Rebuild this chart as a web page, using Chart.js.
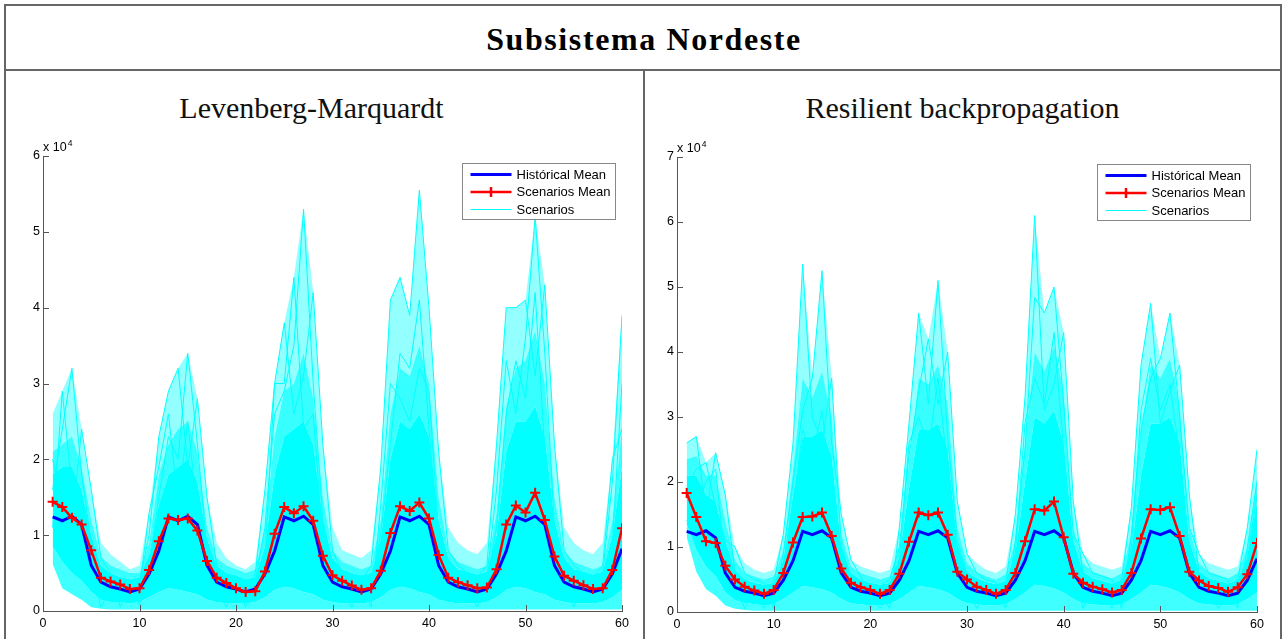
<!DOCTYPE html>
<html>
<head>
<meta charset="utf-8">
<script src="https://cdn.jsdelivr.net/npm/chart.js@4.4.1/dist/chart.umd.min.js"></script>
<style>
  html, body { margin: 0; padding: 0; background: #fff; overflow: hidden; }
  body { width: 1285px; height: 639px; position: relative; }
  .frame { position: absolute; left: 4px; top: 4px; width: 1274px; height: 700px; border: 2px solid #666; }
  .hline { position: absolute; left: 4px; top: 69px; width: 1278px; height: 2px; background: #666; }
  .vline { position: absolute; left: 643px; top: 69px; width: 2px; height: 600px; background: #666; }
  .title { position: absolute; top: 23px; left: 0; width: 1288px; text-align: center;
           font: bold 32px "Liberation Serif", serif; letter-spacing: 1.6px; line-height: 32px; color: #000; }
  .sub { position: absolute; top: 93px; font: 30px "Liberation Serif", serif; line-height: 30px;
         text-align: center; color: #111; }
  canvas { position: absolute; top: 71px; }
</style>
</head>
<body>
<div class="frame"></div>
<div class="hline"></div>
<div class="vline"></div>
<div class="title">Subsistema Nordeste</div>
<div class="sub" style="left:0;width:623px;">Levenberg-Marquardt</div>
<div class="sub" style="left:645px;width:635px;">Resilient backpropagation</div>
<canvas id="chart-lm" width="637" height="568" style="left:6px;"></canvas>
<canvas id="chart-rp" width="634" height="568" style="left:645px;"></canvas>
<script>
// values are in units of 10^4 (the axis multiplier)
const months = [1,2,3,4,5,6,7,8,9,10,11,12,13,14,15,16,17,18,19,20,21,22,23,24,25,26,27,28,29,30,
  31,32,33,34,35,36,37,38,39,40,41,42,43,44,45,46,47,48,49,50,51,52,53,54,55,56,57,58,59,60];
const xTicks = [0, 10, 20, 30, 40, 50, 60];
const lmYTicks = [0, 1, 2, 3, 4, 5, 6];
const rpYTicks = [0, 1, 2, 3, 4, 5, 6, 7];
const legendLabels = ['Histórical Mean', 'Scenarios Mean', 'Scenarios'];

const histMean = [
  1.24,1.19,1.25,1.14,0.60,0.38,0.32,0.29,0.25,0.29,0.49,0.79,
  1.24,1.19,1.25,1.14,0.60,0.38,0.32,0.29,0.25,0.29,0.49,0.79,
  1.24,1.19,1.25,1.14,0.60,0.38,0.32,0.29,0.25,0.29,0.49,0.79,
  1.24,1.19,1.25,1.14,0.60,0.38,0.32,0.29,0.25,0.29,0.49,0.79,
  1.24,1.19,1.25,1.14,0.60,0.38,0.32,0.29,0.25,0.29,0.49,0.82];

// Levenberg-Marquardt
const lmScenMean = [
  1.44,1.37,1.23,1.14,0.80,0.44,0.39,0.35,0.29,0.30,0.54,0.92,
  1.22,1.20,1.22,1.06,0.66,0.44,0.37,0.30,0.25,0.26,0.52,1.02,
  1.37,1.29,1.38,1.19,0.73,0.47,0.40,0.335,0.28,0.30,0.53,1.03,
  1.38,1.32,1.43,1.22,0.74,0.44,0.38,0.34,0.30,0.31,0.55,1.14,
  1.39,1.30,1.56,1.20,0.72,0.465,0.40,0.34,0.29,0.30,0.54,1.09];
const lmTop = [
  2.6,2.9,3.2,2.4,1.6,0.9,0.75,0.65,0.55,0.6,1.3,2.3,
  2.9,3.2,3.4,2.8,1.5,0.9,0.7,0.6,0.55,0.65,1.6,3.0,
  3.8,4.4,5.3,4.2,2.2,1.1,0.8,0.75,0.7,0.8,1.9,4.1,
  4.4,3.9,5.55,4.0,2.1,1.1,0.9,0.8,0.75,0.9,2.2,4.0,
  4.0,4.1,5.2,4.3,2.2,1.1,0.9,0.8,0.75,0.9,2.0,3.9];
const lmUpper = [
  2.1,2.2,2.3,1.9,1.2,0.72,0.6,0.55,0.5,0.5,0.9,1.8,
  2.2,2.4,2.5,2.1,1.1,0.7,0.6,0.55,0.5,0.55,1.1,2.3,
  2.9,3.0,3.4,2.8,1.5,0.8,0.65,0.6,0.55,0.6,1.2,2.6,
  3.2,3.1,3.5,3.0,1.5,0.8,0.65,0.6,0.55,0.6,1.3,2.7,
  3.2,3.3,3.7,3.0,1.5,0.8,0.65,0.6,0.55,0.6,1.2,2.4];
const lmHigh = [
  1.8,1.9,1.9,1.6,1.0,0.6,0.5,0.45,0.42,0.45,0.75,1.4,
  1.8,1.9,2.0,1.7,0.95,0.6,0.5,0.47,0.42,0.45,0.85,1.8,
  2.3,2.4,2.5,2.2,1.2,0.7,0.55,0.5,0.47,0.5,0.95,2.0,
  2.5,2.4,2.6,2.3,1.2,0.7,0.55,0.52,0.48,0.52,1.0,2.1,
  2.5,2.5,2.7,2.3,1.2,0.7,0.55,0.52,0.48,0.52,1.0,1.9];
const lmLow = [
  0.85,0.65,0.5,0.4,0.25,0.15,0.12,0.12,0.1,0.12,0.18,0.25,
  0.3,0.28,0.25,0.22,0.15,0.12,0.1,0.1,0.1,0.12,0.18,0.28,
  0.32,0.3,0.25,0.22,0.15,0.12,0.1,0.1,0.1,0.12,0.18,0.28,
  0.32,0.3,0.25,0.22,0.15,0.12,0.1,0.1,0.1,0.12,0.18,0.28,
  0.32,0.3,0.25,0.22,0.15,0.12,0.1,0.1,0.1,0.12,0.18,0.28];
const lmBottom = [
  0.62,0.3,0.22,0.15,0.05,0.03,0.02,0.02,0.02,0.02,0.02,0.02,
  0.02,0.02,0.02,0.02,0.02,0.02,0.02,0.02,0.02,0.02,0.02,0.02,
  0.02,0.02,0.02,0.02,0.02,0.02,0.02,0.02,0.02,0.02,0.02,0.02,
  0.02,0.02,0.02,0.02,0.02,0.02,0.02,0.02,0.02,0.02,0.02,0.02,
  0.02,0.02,0.02,0.02,0.02,0.02,0.02,0.02,0.02,0.02,0.02,0.02];
const lmLineA = [
  1.6,2.4,3.2,1.8,0.9,0.5,0.4,0.35,0.3,0.08,0.6,1.5,
  2.3,2.0,3.4,2.2,0.8,0.45,0.3,0.25,0.3,0.4,1.1,2.6,
  2.9,3.5,5.3,3.0,1.2,0.6,0.45,0.4,0.35,0.05,1.4,3.0,
  2.8,2.5,3.2,2.9,1.0,0.5,0.4,0.35,0.3,0.45,1.6,3.3,
  2.6,3.6,5.2,3.4,1.1,0.6,0.45,0.4,0.3,0.5,1.7,3.9];
const lmLineB = [
  2.0,1.4,1.1,2.4,1.6,0.7,0.5,0.05,0.35,0.4,1.0,2.3,
  2.9,3.2,1.9,2.8,1.5,0.6,0.45,0.4,0.05,0.5,1.6,3.0,
  3.8,2.6,3.1,4.2,2.2,0.8,0.5,0.45,0.4,0.6,1.9,4.1,
  4.4,3.9,5.55,4.0,2.1,0.8,0.6,0.5,0.45,0.6,2.2,4.0,
  4.0,4.1,3.1,4.3,2.2,0.8,0.6,0.5,0.45,0.6,2.0,2.4];
const lmLineC = [
  1.1,2.9,1.6,1.2,0.6,0.05,0.3,0.3,0.25,0.3,1.3,1.9,
  2.6,1.4,2.5,1.3,0.5,0.35,0.05,0.35,0.3,0.35,0.7,3.0,
  3.0,4.4,2.4,2.6,0.9,0.4,0.35,0.05,0.3,0.4,1.0,2.2,
  3.4,3.2,4.1,2.4,0.9,0.45,0.35,0.3,0.05,0.4,1.1,2.6,
  3.3,2.8,4.2,2.1,0.9,0.45,0.05,0.35,0.3,0.4,0.9,3.0];

// Resilient backpropagation
const rpScenMean = [
  1.83,1.46,1.09,1.06,0.71,0.50,0.39,0.33,0.28,0.34,0.60,1.07,
  1.46,1.47,1.53,1.17,0.67,0.45,0.38,0.34,0.28,0.34,0.59,1.08,
  1.53,1.49,1.53,1.19,0.62,0.50,0.39,0.34,0.28,0.34,0.60,1.09,
  1.58,1.56,1.70,1.15,0.59,0.45,0.39,0.35,0.30,0.34,0.60,1.13,
  1.58,1.57,1.61,1.17,0.62,0.485,0.40,0.37,0.31,0.38,0.58,1.06];
const rpTop = [
  2.6,2.7,2.3,2.45,1.8,1.0,0.75,0.65,0.6,0.65,1.2,2.6,
  5.35,3.6,5.25,3.6,1.5,0.8,0.7,0.65,0.6,0.65,1.3,2.9,
  4.6,4.2,5.1,4.0,1.7,0.9,0.75,0.65,0.6,0.7,1.5,3.3,
  6.1,4.6,5.0,4.3,1.7,0.9,0.75,0.7,0.65,0.7,1.6,3.8,
  4.75,3.9,4.6,3.8,1.8,0.9,0.75,0.7,0.65,0.7,1.3,2.5];
const rpUpper = [
  2.35,2.4,2.1,2.1,1.4,0.8,0.6,0.55,0.5,0.55,0.95,2.2,
  3.6,3.3,3.7,3.0,1.2,0.7,0.6,0.55,0.5,0.55,1.0,2.3,
  3.6,3.5,3.8,3.2,1.3,0.75,0.62,0.55,0.5,0.58,1.1,2.6,
  4.0,3.7,4.1,3.4,1.3,0.75,0.62,0.57,0.52,0.6,1.2,2.8,
  3.8,3.6,3.9,3.2,1.3,0.75,0.62,0.57,0.52,0.6,1.0,2.1];
const rpHigh = [
  2.1,2.1,1.8,1.7,1.1,0.65,0.5,0.45,0.42,0.45,0.8,1.8,
  2.7,2.7,2.8,2.4,1.0,0.6,0.5,0.45,0.42,0.45,0.85,1.9,
  2.8,2.8,2.9,2.5,1.05,0.62,0.52,0.46,0.43,0.48,0.9,2.0,
  3.0,2.9,3.1,2.6,1.1,0.62,0.52,0.48,0.44,0.5,0.95,2.1,
  2.9,2.9,3.0,2.6,1.1,0.63,0.52,0.48,0.44,0.5,0.85,1.7];
const rpLow = [
  1.35,0.95,0.7,0.55,0.3,0.18,0.14,0.12,0.1,0.12,0.2,0.3,
  0.4,0.38,0.35,0.3,0.2,0.13,0.12,0.1,0.1,0.12,0.2,0.3,
  0.4,0.38,0.35,0.3,0.2,0.13,0.12,0.1,0.1,0.12,0.2,0.3,
  0.42,0.4,0.36,0.3,0.2,0.13,0.12,0.1,0.1,0.12,0.2,0.3,
  0.42,0.4,0.36,0.3,0.2,0.13,0.12,0.1,0.1,0.12,0.2,0.3];
const rpBottom = [
  1.15,0.62,0.35,0.25,0.1,0.05,0.03,0.02,0.02,0.02,0.02,0.02,
  0.02,0.02,0.02,0.02,0.02,0.02,0.02,0.02,0.02,0.02,0.02,0.02,
  0.02,0.02,0.02,0.02,0.02,0.02,0.02,0.02,0.02,0.02,0.02,0.02,
  0.02,0.02,0.02,0.02,0.02,0.02,0.02,0.02,0.02,0.02,0.02,0.02,
  0.02,0.02,0.02,0.02,0.02,0.02,0.02,0.02,0.02,0.02,0.02,0.02];
const rpLineA = [
  2.6,2.7,1.5,2.45,1.8,0.6,0.5,0.4,0.05,0.45,1.2,2.6,
  5.35,3.0,2.6,3.6,1.0,0.55,0.45,0.4,0.35,0.05,1.3,2.9,
  4.6,3.2,5.1,2.7,1.1,0.6,0.5,0.4,0.35,0.45,1.5,3.3,
  6.1,3.1,3.5,4.3,1.7,0.6,0.5,0.45,0.05,0.5,1.6,3.8,
  4.75,2.9,3.4,3.8,1.8,0.6,0.5,0.45,0.4,0.5,1.3,2.5];
const rpLineB = [
  1.9,2.2,2.3,1.6,1.1,1.0,0.6,0.5,0.45,0.05,0.9,2.0,
  3.1,3.6,5.25,2.6,1.5,0.8,0.55,0.05,0.4,0.5,1.0,2.4,
  3.4,4.2,3.2,4.0,1.7,0.9,0.6,0.5,0.45,0.05,1.1,2.5,
  4.84,4.6,5.0,3.2,1.2,0.9,0.6,0.55,0.5,0.05,1.2,2.8,
  3.6,3.9,4.6,3.0,1.3,0.9,0.6,0.55,0.5,0.05,1.0,2.0];
const rpLineC = [
  1.4,1.6,2.0,2.2,0.7,0.4,0.05,0.35,0.3,0.35,0.7,1.6,
  2.8,2.4,3.1,1.8,0.7,0.4,0.35,0.3,0.05,0.35,0.8,2.6,
  3.0,2.5,3.6,2.2,0.8,0.45,0.05,0.35,0.3,0.35,0.9,2.9,
  3.6,3.2,4.3,2.5,0.8,0.05,0.4,0.35,0.3,0.4,1.0,3.1,
  3.9,3.1,3.5,2.4,0.8,0.45,0.4,0.05,0.3,0.35,0.8,1.8];

const CYAN = '#00ffff';
const FONT = '"Liberation Sans", Arial, sans-serif';
const pts = (vals) => vals.map((v, i) => ({ x: months[i], y: v }));

// cloud of scenarios as stacked bands (sparse fringe -> dense core)
function cloudBands(top, upper, high, low, bottom) {
  const edge = (vals, fill, color) => ({
    label: 'Scenarios', data: pts(vals), borderWidth: 0, pointRadius: 0,
    fill: fill, backgroundColor: color, order: 5
  });
  return [
    edge(bottom, false, 'transparent'),
    edge(low, '-1', 'rgba(0,255,255,0.75)'),
    edge(high, '-1', CYAN),
    edge(upper, '-1', 'rgba(0,255,255,0.78)'),
    edge(top, '-1', 'rgba(0,255,255,0.42)')
  ];
}

// MATLAB look: inward ticks, x10^4 multiplier, boxed legend
const matlabAxes = {
  id: 'matlabAxes',
  afterDraw(chart) {
    const { ctx, chartArea: a, scales: { x, y } } = chart;
    ctx.save();
    ctx.strokeStyle = '#555';
    ctx.lineWidth = 1;
    ctx.beginPath();
    x.ticks.forEach(t => {
      const px = Math.round(x.getPixelForValue(t.value)) + 0.5;
      ctx.moveTo(px, a.bottom); ctx.lineTo(px, a.bottom - 6);
    });
    y.ticks.forEach(t => {
      const py = Math.round(y.getPixelForValue(t.value)) + 0.5;
      ctx.moveTo(a.left, py); ctx.lineTo(a.left + 6, py);
    });
    ctx.stroke();

    // exponent label
    ctx.fillStyle = '#000';
    ctx.textAlign = 'left';
    ctx.textBaseline = 'alphabetic';
    ctx.font = '12.5px ' + FONT;
    const base = a.top - 5;
    ctx.fillText('x 10', a.left, base);
    const w = ctx.measureText('x 10').width;
    ctx.font = '8.5px ' + FONT;
    ctx.fillText('4', a.left + w + 1, base - 5);

    // legend
    const bw = 153, bh = 56;
    const bx = Math.round(a.right - 7 - bw) + 0.5, by = Math.round(a.top + 7) + 0.5;
    ctx.fillStyle = '#fff';
    ctx.fillRect(bx, by, bw, bh);
    ctx.strokeStyle = '#888';
    ctx.strokeRect(bx, by, bw, bh);
    const rows = [by + 11, by + 28.5, by + 46];
    const styles = [
      { c: '#0000ff', w: 3 }, { c: '#ff0000', w: 2.5 }, { c: CYAN, w: 1 }
    ];
    ctx.font = '13px ' + FONT;
    ctx.textBaseline = 'middle';
    legendLabels.forEach((lbl, i) => {
      ctx.strokeStyle = styles[i].c;
      ctx.lineWidth = styles[i].w;
      ctx.beginPath();
      ctx.moveTo(bx + 8, rows[i]); ctx.lineTo(bx + 49, rows[i]);
      if (i === 1) {
        ctx.moveTo(bx + 28.5, rows[i] - 5); ctx.lineTo(bx + 28.5, rows[i] + 5);
      }
      ctx.stroke();
      ctx.fillStyle = '#000';
      ctx.fillText(lbl, bx + 54, rows[i] + 0.5);
    });
    ctx.restore();
  }
};

function makeChart(id, cfg) {
  const datasets = [
    { label: 'Scenarios Mean', data: pts(cfg.scen), borderColor: '#ff0000', borderWidth: 2.5,
      pointStyle: 'cross', pointRadius: 5, pointBorderWidth: 2, pointBorderColor: '#ff0000',
      fill: false, order: 0 },
    { label: 'Histórical Mean', data: pts(histMean), borderColor: '#0000ff', borderWidth: 3,
      pointRadius: 0, fill: false, order: 1 },
    ...cfg.lines.map(l => ({ label: 'Scenarios', data: pts(l), borderColor: CYAN, borderWidth: 1,
      pointRadius: 0, fill: false, order: 2 })),
    ...cloudBands(...cfg.bands)
  ];

  return new Chart(document.getElementById(id), {
    type: 'line',
    data: { datasets },
    options: {
      responsive: false,
      animation: false,
      devicePixelRatio: 1,
      layout: { padding: cfg.padding },
      elements: { line: { tension: 0 } },
      plugins: { legend: { display: false }, tooltip: { enabled: false } },
      scales: {
        x: {
          type: 'linear', min: 0, max: 60,
          afterBuildTicks: s => { s.ticks = xTicks.map(v => ({ value: v })); },
          afterFit: s => { s.height = cfg.xHeight; },
          grid: { display: false, drawTicks: false },
          border: { display: true, color: '#555', width: 1 },
          ticks: { padding: 5, color: '#000', font: { family: FONT, size: 12.5 } }
        },
        y: {
          min: 0, max: cfg.yTicks[cfg.yTicks.length - 1],
          afterBuildTicks: s => { s.ticks = cfg.yTicks.map(v => ({ value: v })); },
          afterFit: s => { s.width = cfg.yWidth; },
          grid: { display: false, drawTicks: false },
          border: { display: true, color: '#555', width: 1 },
          ticks: { padding: 3, color: '#000', font: { family: FONT, size: 12.5 } }
        }
      }
    },
    plugins: [matlabAxes]
  });
}

makeChart('chart-lm', {
  scen: lmScenMean,
  lines: [lmLineA, lmLineB, lmLineC],
  bands: [lmTop, lmUpper, lmHigh, lmLow, lmBottom],
  yTicks: lmYTicks,
  padding: { top: 85, right: 21, left: 0, bottom: 0 },
  yWidth: 37, xHeight: 28
});

makeChart('chart-rp', {
  scen: rpScenMean,
  lines: [rpLineA, rpLineB, rpLineC],
  bands: [rpTop, rpUpper, rpHigh, rpLow, rpBottom],
  yTicks: rpYTicks,
  padding: { top: 86, right: 22, left: 0, bottom: 0 },
  yWidth: 32, xHeight: 27
});
</script>
</body>
</html>
